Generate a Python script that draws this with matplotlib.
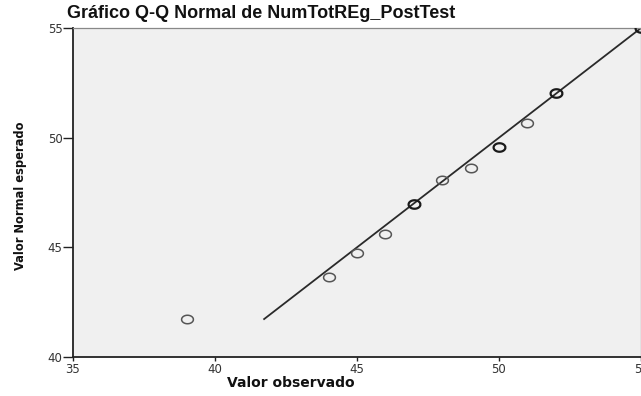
import matplotlib
matplotlib.use("Agg")
from matplotlib import pyplot as plt
from matplotlib.path import Path
import numpy as np

# valores observados, valor normal esperado y cuantas veces se repite cada uno
observado = [39, 44, 45, 46, 47, 48, 49, 50, 51, 52, 55]
esperado = [41.73, 43.65, 44.74, 45.61, 46.98, 48.07, 48.62, 49.58, 50.67, 52.04, 55.0]
repeticiones = [1, 1, 1, 1, 2, 1, 1, 2, 1, 2, 2]

titulo = "Gráfico Q-Q Normal de NumTotREg_PostTest"
x_ticks = [35, 40, 45, 50, 55]
y_ticks = [40, 45, 50, 55]

plt.rcParams['font.family'] = ['Liberation Sans', 'DejaVu Sans']

# circulo un poco achatado como el de SPSS
t = np.linspace(0, 2 * np.pi, 60)
elipse = Path(np.column_stack([np.cos(t), 0.72 * np.sin(t)]))

fig = plt.figure(figsize=(6.41, 3.96), dpi=100)
ax = fig.add_axes([73 / 641, 1 - 357 / 396, 568 / 641, 329 / 396])
ax.set_facecolor('#f0f0f0')

lo, hi = min(esperado), max(esperado)
ax.plot([lo, hi], [lo, hi], color='#2a2a2a', lw=1.3, zorder=2)

for xo, ye, n in zip(observado, esperado, repeticiones):
    col = '#555555' if n == 1 else '#1a1a1a'
    ax.plot(xo, ye, marker=elipse, ms=8.5, mfc='none', mec=col,
            mew=1.1 if n == 1 else 1.6, ls='none', zorder=3)

ax.set_xlim(35, 55)
ax.set_ylim(40, 55)
ax.set_xticks(x_ticks)
ax.set_yticks(y_ticks)
ax.tick_params(direction='out', width=1, color='#222222',
               labelsize=8.5, labelcolor='#333333')
ax.tick_params(axis='x', length=3, pad=1)
ax.tick_params(axis='y', length=7, pad=0.5)
for lab in ax.get_xticklabels() + ax.get_yticklabels():
    lab.set_family('DejaVu Sans')

for s in ['left', 'bottom']:
    ax.spines[s].set_linewidth(1.3)
    ax.spines[s].set_color('#222222')
ax.spines['top'].set_color('#888888')
ax.spines['top'].set_linewidth(0.9)
ax.spines['right'].set_color('#888888')
ax.spines['right'].set_linewidth(0.9)

fig.text(261 / 641, 1 - 14 / 396, titulo, ha='center', va='center',
         fontsize=13, fontweight='bold', color='#111111')
fig.text(291 / 641, 1 - 383 / 396, "Valor observado", ha='center', va='center',
         fontsize=10, fontweight='bold', color='#111111', family='DejaVu Sans')
fig.text(21 / 641, 1 - 196 / 396, "Valor Normal esperado", ha='center', va='center',
         rotation=90, fontsize=9.2, fontweight='bold', color='#111111',
         family='DejaVu Sans', fontstretch='condensed')

fig.savefig("out.png", dpi=100)
